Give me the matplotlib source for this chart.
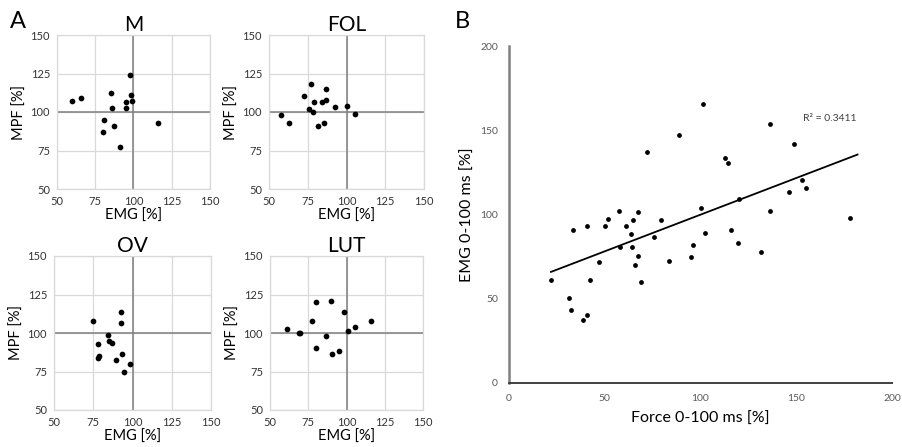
#!/usr/bin/env python3

"""
Panel A: MPF vs EMG per muscle, Panel B: EMG vs force with linear trend
"""

import matplotlib
matplotlib.use('Agg')
import matplotlib.pyplot as plt

plt.rcParams['font.family'] = ['Lato', 'DejaVu Sans']

# Panel A data (EMG [%], MPF [%])
m_emg = [60.0, 65.9, 85.2, 97.8, 98.3, 98.7, 95.2, 95.0, 85.9, 80.7, 87.4, 80.0, 91.3, 116.1]
m_mpf = [107.2, 109.4, 112.4, 124.1, 111.1, 107.2, 106.6, 102.9, 102.9, 95.1, 90.6, 87.1, 77.4, 92.8]

fol_emg = [58.0, 62.9, 72.6, 76.9, 75.9, 79.1, 78.7, 84.1, 86.9, 86.9, 81.5, 85.2, 92.7, 100.0, 105.2]
fol_mpf = [98.2, 93.0, 110.3, 118.0, 101.8, 106.4, 99.7, 106.6, 115.2, 107.9, 90.8, 93.0, 103.1, 104.2, 98.4]

ov_emg = [74.9, 92.8, 92.6, 84.3, 85.3, 87.0, 78.3, 78.5, 78.1, 93.2, 89.6, 98.3, 94.9]
ov_mpf = [107.8, 113.6, 106.3, 98.7, 95.0, 93.3, 92.7, 84.9, 83.8, 86.6, 82.5, 79.7, 74.7]

lut_emg = [61.1, 68.7, 69.6, 79.8, 90.0, 77.6, 98.3, 115.9, 105.4, 100.9, 86.5, 80.0, 90.2, 95.4]
lut_mpf = [102.4, 100.0, 100.0, 120.3, 120.8, 107.8, 113.7, 108.1, 103.7, 101.3, 98.1, 90.5, 86.6, 88.2]

muscles = ['M', 'FOL', 'OV', 'LUT']
a_ticks = [50, 75, 100, 125, 150]

# Panel B data (Force 0-100 ms [%], EMG 0-100 ms [%])
force = [101.2, 136.2, 89.0, 148.9, 72.3, 113.0, 114.4, 153.2, 155.1, 146.1, 120.2,
         100.5, 136.2, 57.4, 67.6, 51.8, 79.3, 64.7, 177.9, 40.9, 49.9, 61.0, 116.0,
         33.6, 63.5, 75.6, 102.3, 58.2, 64.2, 96.2, 119.6, 67.3, 95.3, 131.8, 46.8,
         83.3, 65.6, 21.9, 42.3, 68.7, 31.1, 32.5, 40.5, 38.9]
emg = [165.8, 153.9, 147.0, 142.0, 137.3, 133.5, 130.6, 120.7, 115.5, 113.5, 109.4,
       103.9, 102.3, 102.3, 101.2, 97.5, 96.9, 96.5, 97.7, 93.0, 93.4, 93.0, 91.0,
       90.6, 88.6, 86.6, 89.2, 80.5, 80.7, 81.9, 83.3, 75.4, 74.8, 77.7, 71.6,
       72.6, 70.2, 60.9, 60.9, 60.1, 50.2, 43.5, 40.4, 37.6]
trend_slope = 0.435
trend_intercept = 56.4
r_squared = 'R² = 0.3411'
b_ticks = [0, 50, 100, 150, 200]

W, H = 902, 447


def px_axes(fig, left, top, right, bottom):
    return fig.add_axes([left / W, 1 - bottom / H, (right - left) / W, (bottom - top) / H])


def small_panel(ax, x, y, title):
    ax.set_xlim(50, 150)
    ax.set_ylim(50, 150)
    ax.set_xticks(a_ticks)
    ax.set_yticks(a_ticks)
    ax.grid(True, color='#d9d9d9', lw=0.9)
    ax.set_axisbelow(True)
    for s in ax.spines.values():
        s.set_color('#d9d9d9')
        s.set_linewidth(0.9)
    ax.axvline(100, color='#7f7f7f', lw=1.1, zorder=1)
    ax.axhline(100, color='#7f7f7f', lw=1.1, zorder=1)
    ax.scatter(x, y, s=17, color='black', zorder=3, linewidths=0)
    ax.tick_params(length=0, labelsize=8, labelcolor='#333333', pad=5)
    ax.set_title(title, fontsize=15, pad=3)
    ax.set_xlabel('EMG [%]', fontsize=10.5, labelpad=1)
    ax.set_ylabel('MPF [%]', fontsize=10.5, labelpad=3)


fig = plt.figure(figsize=(W / 100, H / 100), dpi=100)

boxes = [(57, 35, 210, 189), (269, 35, 424, 189), (54, 256, 211, 410), (270, 256, 423, 410)]
data = [(m_emg, m_mpf), (fol_emg, fol_mpf), (ov_emg, ov_mpf), (lut_emg, lut_mpf)]
for box, (x, y), name in zip(boxes, data, muscles):
    small_panel(px_axes(fig, *box), x, y, name)

ax = px_axes(fig, 509, 46, 892, 383)
ax.scatter(force, emg, s=12, color='black', zorder=3, linewidths=0)
x0, x1 = min(force), 182
ax.plot([x0, x1], [trend_slope * x0 + trend_intercept, trend_slope * x1 + trend_intercept],
        color='black', lw=1.3)
ax.text(153.5, 157, r_squared, fontsize=7.5, color='#404040', va='center')
ax.set_xlim(0, 200)
ax.set_ylim(0, 200)
ax.set_xticks(b_ticks)
ax.set_yticks(b_ticks)
ax.spines['top'].set_visible(False)
ax.spines['right'].set_visible(False)
ax.spines['left'].set_color('#808080')
ax.spines['left'].set_linewidth(1.8)
ax.spines['bottom'].set_color('#404040')
ax.spines['bottom'].set_linewidth(1.4)
ax.tick_params(length=0, labelsize=7.5, labelcolor='#595959', pad=8)
ax.set_xlabel('Force 0-100 ms [%]', fontsize=11.5, labelpad=6)
ax.set_ylabel('EMG 0-100 ms [%]', fontsize=11.5, labelpad=4)

fig.text(10 / W, 1 - 21 / H, 'A', fontsize=17, va='center', ha='left')
fig.text(455 / W, 1 - 21 / H, 'B', fontsize=17, va='center', ha='left')

fig.savefig('out.png', dpi=100)
